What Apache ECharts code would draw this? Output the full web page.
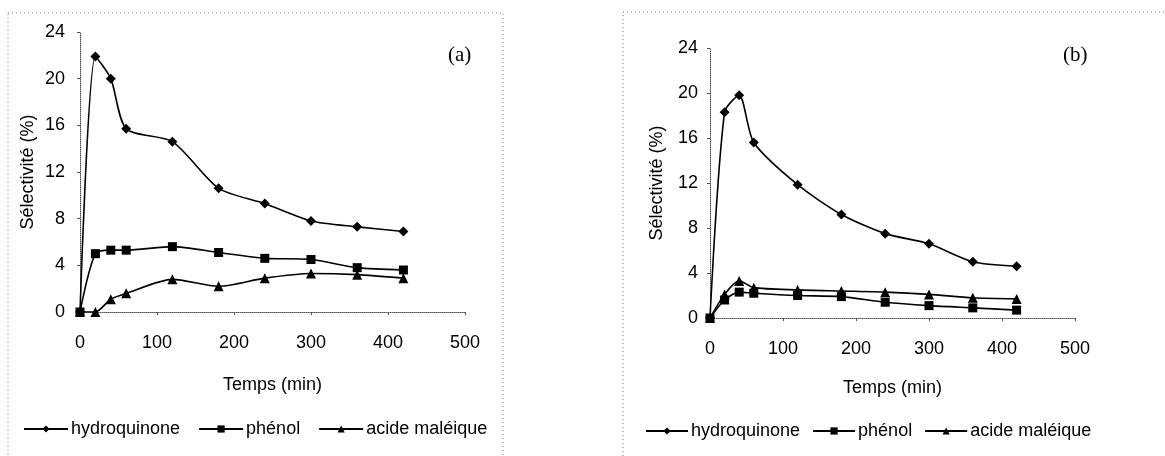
<!DOCTYPE html>
<html><head><meta charset="utf-8">
<script src="https://cdn.jsdelivr.net/npm/echarts@6/dist/echarts.min.js"></script>
<style>html,body{margin:0;padding:0;background:#fff}#c{width:1165px;height:456px}</style>
</head><body><div id="c"></div>
<script>
const times = [0, 20, 40, 60, 120, 180, 240, 300, 360, 420];
const xTicks = [0, 100, 200, 300, 400, 500];
const yTicks = [0, 4, 8, 12, 16, 20, 24];
const names = ['hydroquinone', 'phénol', 'acide maléique'];
const hydroA = [0, 21.9, 20.0, 15.7, 14.6, 10.6, 9.3, 7.8, 7.3, 6.9];
const phenolA = [0, 5.0, 5.3, 5.3, 5.6, 5.1, 4.6, 4.5, 3.8, 3.6];
const maleicA = [0, 0, 1.1, 1.6, 2.8, 2.2, 2.9, 3.3, 3.2, 2.9];
const hydroB = [0, 18.3, 19.8, 15.6, 11.85, 9.2, 7.5, 6.6, 5.0, 4.6];
const phenolB = [0, 1.6, 2.3, 2.2, 2.0, 1.9, 1.4, 1.1, 0.9, 0.7];
const maleicB = [0, 2.1, 3.3, 2.7, 2.5, 2.4, 2.3, 2.1, 1.8, 1.7];
const panelLabels = ['(a)', '(b)'];

const font = 'Liberation Sans, Arial, sans-serif';
const symbols = ['diamond', 'rect', 'triangle'];
const sizes = [10, 9, 10];
function pair(vals){ return times.map((t,i)=>[t, vals[i]]); }

function xAxis(gi, gap){
  return {gridIndex: gi, type:'value', min: xTicks[0], max: xTicks[xTicks.length-1], interval: 100,
    axisLine:{show:true, onZero:false, lineStyle:{color:'#555', type:'dotted', width:1}},
    axisTick:{show:true, length:3, lineStyle:{color:'#555'}},
    axisLabel:{color:'#000', fontSize:18, fontFamily:font, margin:22},
    splitLine:{show:false},
    name:'Temps (min)', nameLocation:'middle', nameGap:gap,
    nameTextStyle:{color:'#000', fontSize:18, fontFamily:font}};
}
function yAxis(gi, margin, gap){
  return {gridIndex: gi, type:'value', min: yTicks[0], max: yTicks[yTicks.length-1], interval: 4,
    axisLine:{show:true, lineStyle:{color:'#555', type:'dotted', width:1}},
    axisTick:{show:true, length:3, lineStyle:{color:'#555'}},
    axisLabel:{color:'#000', fontSize:18, fontFamily:font, margin:margin},
    splitLine:{show:false},
    name:'Sélectivité (%)', nameLocation:'middle', nameGap:gap, nameRotate:90,
    nameTextStyle:{color:'#000', fontSize:18, fontFamily:font}};
}
function ser(name, vals, gi, k){
  return {name:name, type:'line', xAxisIndex:gi, yAxisIndex:gi, data:pair(vals),
    smooth:0.25, symbol:symbols[k], symbolSize:sizes[k], showSymbol:true,
    lineStyle:{color:'#000', width:1.6}, itemStyle:{color:'#000'}, z:3};
}
const chart = echarts.init(document.getElementById('c'), null, {renderer:'canvas'});
chart.setOption({
  animation:false,
  backgroundColor:'#fff',
  grid:[{left:80, top:32, width:385, height:280}, {left:710, top:48, width:365, height:270}],
  xAxis:[xAxis(0, 64), xAxis(1, 61)],
  yAxis:[yAxis(0, 15, 43), yAxis(1, 12, 44)],
  title:[
    {text:panelLabels[0], left:443, top:40, textStyle:{fontFamily:'Liberation Serif, Times New Roman, serif', fontSize:21, fontWeight:'normal', color:'#000'}},
    {text:panelLabels[1], left:1058, top:40, textStyle:{fontFamily:'Liberation Serif, Times New Roman, serif', fontSize:21, fontWeight:'normal', color:'#000'}}
  ],
  legend:[
    {data:names, left:18, top:415, itemWidth:44, itemHeight:9, itemGap:18,
     textStyle:{fontSize:18, fontFamily:font, color:'#000', padding:[0,0,0,-2]}},
    {data:names, left:640, top:417, itemWidth:42, itemHeight:9, itemGap:12,
     textStyle:{fontSize:18, fontFamily:font, color:'#000', padding:[0,0,0,-2]}}
  ],
  graphic:[
    {type:'rect', shape:{x:8, y:13, width:495, height:460}, style:{fill:'none', stroke:'#777', lineWidth:1, lineDash:[1,3]}, silent:true},
    {type:'rect', shape:{x:623, y:12, width:560, height:460}, style:{fill:'none', stroke:'#777', lineWidth:1, lineDash:[1,3]}, silent:true}
  ],
  series:[
    ser(names[0], hydroA, 0, 0), ser(names[1], phenolA, 0, 1), ser(names[2], maleicA, 0, 2),
    ser(names[0], hydroB, 1, 0), ser(names[1], phenolB, 1, 1), ser(names[2], maleicB, 1, 2)
  ]
});
</script></body></html>
